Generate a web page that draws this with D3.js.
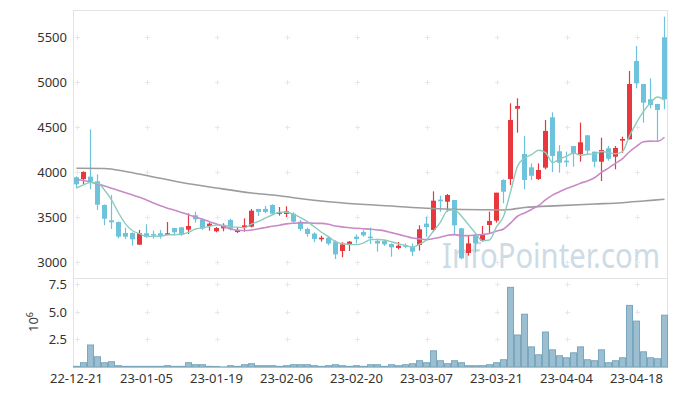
<!DOCTYPE html>
<html lang="en">
<head>
<meta charset="UTF-8">
<title>Candle chart</title>
<script src="https://cdn.jsdelivr.net/npm/d3@7/dist/d3.min.js"></script>
<style>
body { margin: 0; background: #fff; }
text { font-family: 'Noto Sans', sans-serif; fill: #333; }
</style>
</head>
<body>
<svg id="chart" width="677" height="396"></svg>
<script>
// trading days shown on the chart
const dates = ['22-12-21','22-12-22','22-12-23','22-12-26','22-12-27','22-12-28','22-12-29',
  '23-01-02','23-01-03','23-01-04','23-01-05','23-01-06','23-01-09','23-01-10','23-01-11','23-01-12','23-01-13',
  '23-01-16','23-01-17','23-01-18','23-01-19','23-01-20','23-01-25','23-01-26','23-01-27','23-01-30','23-01-31',
  '23-02-01','23-02-02','23-02-03','23-02-06','23-02-07','23-02-08','23-02-09','23-02-10','23-02-13','23-02-14',
  '23-02-15','23-02-16','23-02-17','23-02-20','23-02-21','23-02-22','23-02-23','23-02-24','23-02-27','23-02-28',
  '23-03-02','23-03-03','23-03-06','23-03-07','23-03-08','23-03-09','23-03-10','23-03-13','23-03-14','23-03-15',
  '23-03-16','23-03-17','23-03-20','23-03-21','23-03-22','23-03-23','23-03-24','23-03-27','23-03-28','23-03-29',
  '23-03-30','23-03-31','23-04-03','23-04-04','23-04-05','23-04-06','23-04-07','23-04-10','23-04-11','23-04-12',
  '23-04-13','23-04-14','23-04-17','23-04-18','23-04-19','23-04-20','23-04-21','23-04-24'];

const open = [3941,3922,3948,3897,3633,3463,3444,3322,3322,3192,3319,3311,3319,3303,3378,3385,3359,3519,3474,3400,
  3341,3374,3467,3333,3385,3392,3589,3590,3633,3537,3533,3537,3448,3367,3315,3252,3270,3226,3122,3200,
  3281,3333,3281,3233,3233,3200,3156,3185,3170,3189,3426,3356,3693,3670,3689,3374,3100,3293,3237,3411,
  3459,3911,3922,4703,4200,4052,3922,4048,4608,4230,4126,4289,4200,4408,4226,4114,4263,4170,4348,4363,
  5233,4978,4808,4756,5497];
const high = [3950,4008,4474,3974,3640,3744,3450,3381,3330,3356,3419,3348,3356,3444,3380,3390,3541,3560,3485,3437,
  3389,3430,3480,3381,3485,3589,3590,3622,3641,3611,3619,3552,3467,3381,3330,3292,3285,3241,3219,3233,
  3307,3356,3383,3259,3244,3207,3222,3207,3207,3407,3504,3785,3737,3756,3689,3380,3300,3311,3400,3559,
  3770,3919,4763,4819,4400,4096,4096,4578,4663,4297,4226,4289,4548,4408,4226,4381,4289,4289,4392,5122,
  5400,4978,5041,4756,5726];
const low = [3819,3867,3808,3578,3408,3367,3263,3256,3181,3192,3270,3259,3259,3300,3296,3290,3311,3437,3356,3348,
  3330,3341,3350,3322,3337,3385,3511,3540,3530,3515,3500,3433,3344,3281,3219,3226,3185,3033,3052,3122,
  3207,3281,3200,3115,3178,3059,3141,3152,3067,3126,3281,3337,3559,3559,3311,3030,3070,3107,3226,3319,
  3437,3652,3856,4437,3808,3911,3911,4030,4000,3992,4059,4059,4114,4189,4052,3900,4126,4030,4214,4363,
  4930,4548,4708,4348,4697];
const close = [3863,4000,3892,3637,3481,3441,3281,3281,3252,3319,3281,3296,3289,3319,3330,3305,3400,3474,3374,3426,
  3378,3400,3370,3356,3407,3570,3556,3556,3537,3552,3563,3448,3367,3311,3256,3270,3204,3085,3196,3226,
  3256,3296,3267,3205,3196,3163,3181,3170,3115,3363,3389,3681,3674,3744,3407,3041,3207,3207,3311,3456,
  3770,3781,4578,4733,3911,3959,4022,4456,4178,4103,4108,4208,4330,4237,4114,4244,4148,4267,4367,4978,
  4986,4770,4744,4689,4808];

// volume, millions of shares
const volume = [0.06,0.39,2.0,0.93,0.39,0.48,0.12,0.06,0.06,0.06,0.06,0.06,0.06,0.12,0.06,0.06,0.39,0.21,0.21,0.06,
  0.05,0.01,0.12,0.06,0.21,0.3,0.12,0.12,0.12,0.06,0.12,0.21,0.21,0.21,0.12,0.06,0.12,0.21,0.12,0.06,
  0.12,0.06,0.21,0.21,0.06,0.21,0.12,0.21,0.3,0.57,0.39,1.47,0.57,0.3,0.57,0.39,0.12,0.12,0.12,0.21,
  0.39,0.66,7.24,2.91,4.8,1.83,1.11,3.18,1.56,1.02,0.84,1.29,1.83,0.66,0.57,1.56,0.39,0.57,0.84,5.6,
  4.17,1.38,0.84,0.75,4.71];

// moving averages
const ma5 = [3822,3856,3885,3878,3800,3690,3546,3424,3347,3315,3283,3286,3287,3301,3303,3308,3329,3366,3377,3396,
  3410,3410,3390,3386,3382,3421,3452,3489,3525,3554,3553,3531,3493,3448,3389,3330,3282,3225,3202,3196,
  3193,3212,3248,3250,3244,3225,3202,3183,3165,3198,3244,3344,3444,3570,3579,3509,3415,3321,3235,3244,
  3390,3505,3779,4064,4155,4192,4241,4216,4105,4144,4173,4211,4185,4197,4199,4227,4215,4202,4228,4401,
  4549,4674,4769,4833,4799];
const ma20 = [3917,3905,3889,3868,3845,3820,3795,3770,3745,3718,3690,3655,3625,3598,3575,3550,3525,3500,3474,3447,
  3423,3393,3367,3353,3349,3355,3369,3383,3397,3409,3423,3431,3434,3434,3430,3429,3419,3399,3390,3380,
  3374,3369,3364,3356,3346,3326,3307,3287,3266,3257,3248,3260,3275,3297,3304,3293,3293,3299,3305,3316,
  3342,3366,3432,3508,3544,3584,3626,3690,3743,3780,3816,3843,3876,3900,3936,3996,4043,4096,4149,4225,
  4285,4335,4343,4341,4386];
const ma60Day = [0,4,7,10,15,20,25,29,31,36,40,45,50,55,61,64,69,74,78,81,84];
const ma60 = [4041,4039,4006,3961,3883,3822,3767,3736,3714,3669,3644,3622,3597,3583,3578,3606,3626,3644,3659,3678,3697];

const priceTicks = [3000,3500,4000,4500,5000,5500];
const volTicks = [2.5,5.0,7.5];
const tickEvery = 10;

const svg = d3.select('#chart');
const pLeft = 73, pRight = 667, pTop = 10, pSplit = 278, pBottom = 367;

let x = d3.scaleBand().domain(d3.range(dates.length)).range([pLeft, pLeft + 7 * dates.length]).padding(0);
let cx = i => x(i) + x.bandwidth() / 2;
let y = d3.scaleLinear().domain([2822, 5800]).range([pSplit, pTop]);
let yv = d3.scaleLinear().domain([0, 8.09]).range([pBottom, pSplit]);

// watermark behind everything
svg.append('text')
    .attr('x', 442).attr('y', 268)
    .attr('textLength', 218).attr('lengthAdjust', 'spacingAndGlyphs')
    .style('font-size', '34px')
    .style('fill', '#b7cddc')
    .style('opacity', 0.7)
    .text('InfoPointer.com');

// frame
let frame = svg.append('g').attr('stroke', '#e3e3e3').attr('fill', 'none');
frame.append('rect').attr('x', pLeft + 0.5).attr('y', pTop + 0.5)
    .attr('width', pRight - pLeft).attr('height', pBottom - pTop);
frame.append('line').attr('x1', pLeft).attr('x2', pRight).attr('y1', pSplit + 0.5).attr('y2', pSplit + 0.5);

// little crosses where the grid would be
let tickIdx = d3.range(0, dates.length, tickEvery);
let crossY = priceTicks.map(v => y(v)).concat(volTicks.map(v => yv(v)));
let cross = svg.append('g').attr('stroke', '#e8e8e8').attr('stroke-width', 1);
tickIdx.forEach(i => {
    crossY.forEach(yy => {
        let px = Math.round(cx(i)) + 0.5, py = Math.round(yy) + 0.5;
        cross.append('path').attr('d', `M${px - 2.5},${py}H${px + 2.5}M${px},${py - 2.5}V${py + 2.5}`);
    });
});

// volume bars
svg.append('g').selectAll('rect').data(volume).enter().append('rect')
    .attr('x', (d, i) => x(i) + 0.5)
    .attr('y', d => yv(d))
    .attr('width', x.bandwidth() - 1)
    .attr('height', d => pBottom - yv(d))
    .attr('fill', '#9bbfd0')
    .attr('stroke', '#7aa7bd')
    .attr('stroke-width', 1);

// candles
let candle = svg.append('g').selectAll('g').data(dates).enter().append('g')
    .attr('fill', (d, i) => close[i] >= open[i] ? '#e8383d' : '#6cc3db')
    .attr('stroke', (d, i) => close[i] >= open[i] ? '#e8383d' : '#6cc3db');
candle.append('line')
    .attr('x1', (d, i) => cx(i)).attr('x2', (d, i) => cx(i))
    .attr('y1', (d, i) => y(high[i])).attr('y2', (d, i) => y(low[i]))
    .attr('stroke-width', 1.2);
candle.append('rect')
    .attr('x', (d, i) => cx(i) - 2.5)
    .attr('width', 5)
    .attr('y', (d, i) => y(Math.max(open[i], close[i])))
    .attr('height', (d, i) => Math.max(1.5, Math.abs(y(open[i]) - y(close[i]))))
    .attr('stroke', 'none');

// moving average lines
let line = d3.line().x(d => cx(d[0])).y(d => y(d[1])).curve(d3.curveMonotoneX);
svg.append('path').datum(ma60Day.map((d, k) => [d, ma60[k]]))
    .attr('d', line).attr('fill', 'none').attr('stroke', '#9c9c9c').attr('stroke-width', 1.6);
svg.append('path').datum(ma20.map((v, i) => [i, v]))
    .attr('d', line).attr('fill', 'none').attr('stroke', '#c98ac7').attr('stroke-width', 1.6);
svg.append('path').datum(ma5.map((v, i) => [i, v]))
    .attr('d', line).attr('fill', 'none').attr('stroke', '#8ccbbd').attr('stroke-width', 1.4);

// price axis labels
svg.append('g').selectAll('text').data(priceTicks).enter().append('text')
    .attr('x', 67).attr('y', d => y(d)).attr('dy', '0.35em')
    .attr('text-anchor', 'end')
    .style('font-size', '13px')
    .text(d => d);

// volume axis labels
svg.append('g').selectAll('text').data(volTicks).enter().append('text')
    .attr('x', 67).attr('y', d => yv(d)).attr('dy', '0.35em')
    .attr('text-anchor', 'end')
    .style('font-size', '13px')
    .text(d => d.toFixed(1));

let unit = svg.append('text')
    .attr('transform', 'translate(38,332) rotate(-90)')
    .style('font-size', '13px');
unit.append('tspan').text('10');
unit.append('tspan').attr('dy', -5).style('font-size', '9px').text('6');

// date labels
svg.append('g').selectAll('text').data(tickIdx).enter().append('text')
    .attr('x', d => cx(d)).attr('y', 383)
    .attr('text-anchor', 'middle')
    .style('font-size', '13px')
    .text(d => dates[d]);
</script>
</body>
</html>
